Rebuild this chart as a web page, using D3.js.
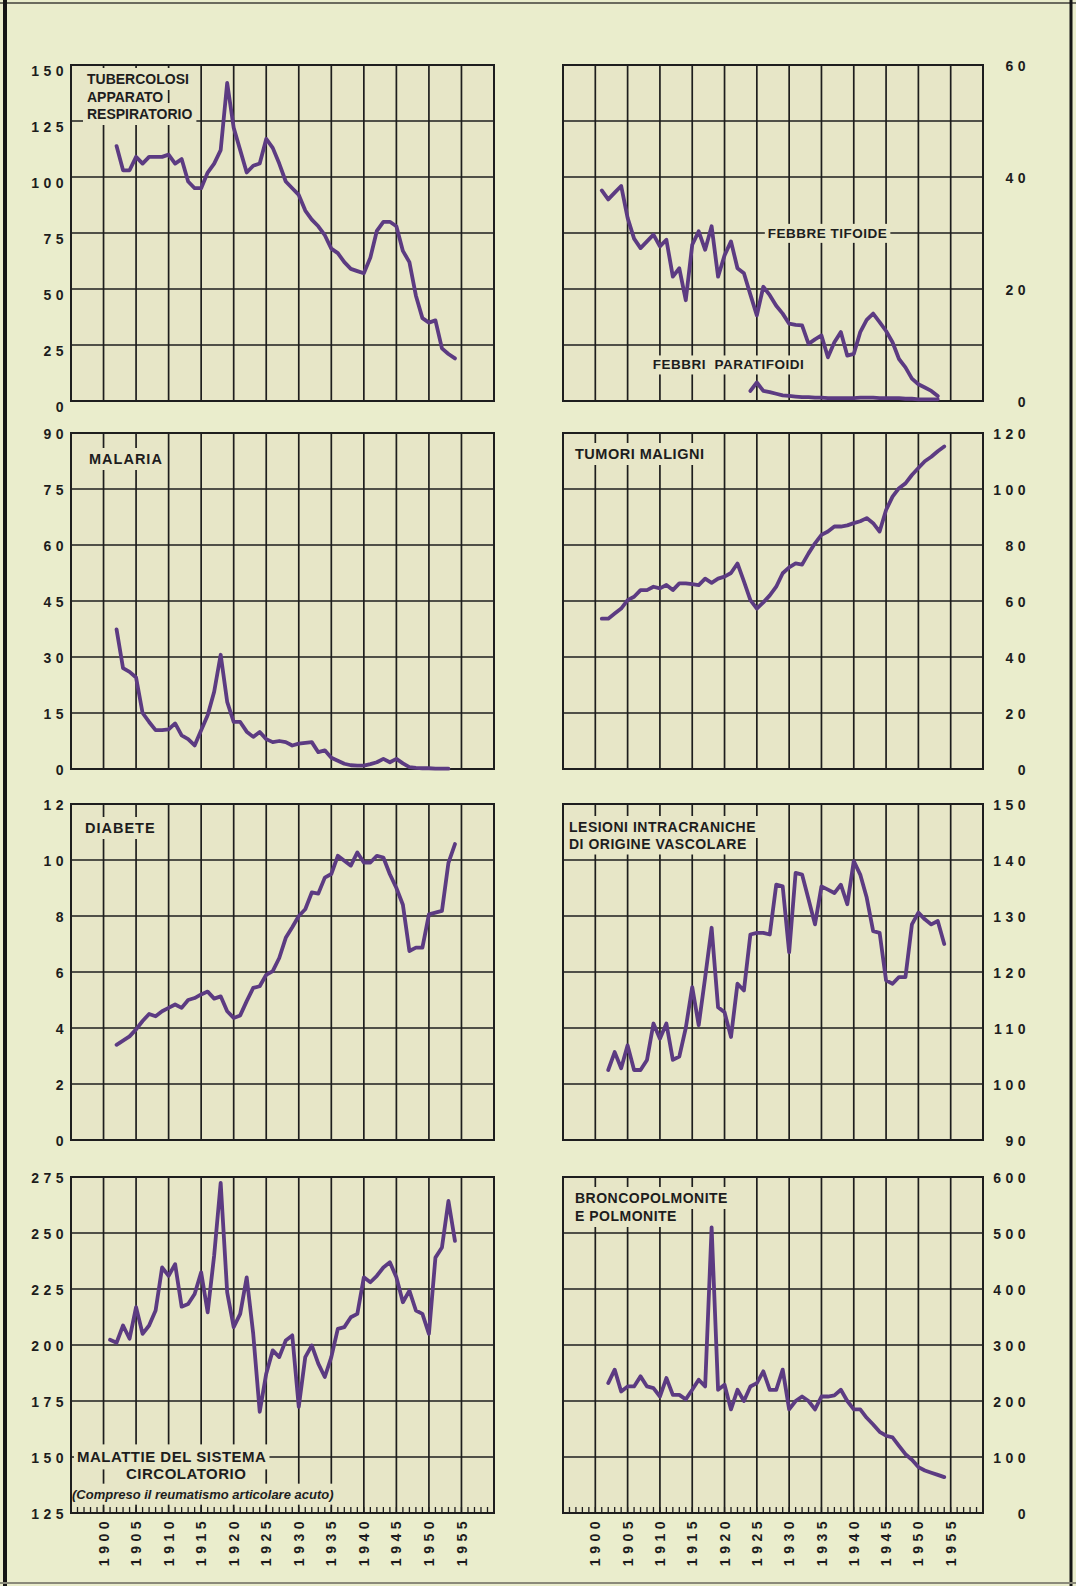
<!DOCTYPE html>
<html lang="it">
<head>
<meta charset="utf-8">
<title>Mortalità per alcune cause</title>
<script src="https://d3js.org/d3.v7.min.js"></script>
<style>
  body { margin: 0; background: #eaedcc; }
  svg text { font-family: "Liberation Sans", Arial, sans-serif; fill: #1d1d1d; }
  .ytick, .xtick { font-size: 14px; font-weight: bold; letter-spacing: 4.5px; }
  .title { font-size: 14.5px; font-weight: bold; letter-spacing: 0.5px; }
  .note { font-size: 13px; font-weight: bold; font-style: italic; }
</style>
</head>
<body>
<svg id="chart" width="1076" height="1586"></svg>
<script>

// ---- data ----
var xTicks = [1900, 1905, 1910, 1915, 1920, 1925, 1930, 1935, 1940, 1945, 1950, 1955];

var tbStart = 1902;
var tbTicks = [0, 25, 50, 75, 100, 125, 150];
var tbValues = [113.8, 103, 103, 109, 106, 109, 109, 109, 110, 106, 108, 98, 95, 95, 102, 106, 112, 142, 122, 112,
  102, 105, 106, 117, 113, 106, 98, 95, 92, 85, 81, 78, 74, 68, 66, 62, 59, 58, 57, 64,
  76, 80, 80, 78, 67, 62, 47, 37, 35, 36, 23.5, 21, 19];

var tifoideStart = 1901;
var tifoideGrid = [0, 10, 20, 30, 40, 50, 60];
var tifoideTicks = [0, 20, 40, 60];
var tifoideValues = [37.6, 36, 37.2, 38.4, 32.7, 29, 27.3, 28.5, 29.7, 27.6, 28.8, 22.2, 23.7, 18, 27.9, 30.3, 27, 31.2, 22.2, 26,
  28.5, 23.7, 22.8, 19, 15.3, 20.4, 18.9, 17, 15.6, 13.8, 13.6, 13.5, 10.2, 11, 11.7, 7.8, 10.5, 12.3, 8.1, 8.4,
  12.3, 14.5, 15.6, 14.1, 12.5, 10.5, 7.5, 6, 4, 3, 2.4, 1.8, 0.9];
var paratifoidiStart = 1924;
var paratifoidiValues = [1.8, 3.3, 1.8, 1.6, 1.3, 1.0, 0.9, 0.8, 0.7, 0.7, 0.6, 0.6, 0.5, 0.5, 0.5, 0.5, 0.5, 0.6, 0.6, 0.6,
  0.5, 0.5, 0.5, 0.5, 0.4, 0.4, 0.3, 0.3, 0.3, 0.3];

var malariaStart = 1902;
var malariaTicks = [0, 15, 30, 45, 60, 75, 90];
var malariaValues = [37.4, 27, 26, 24.5, 15, 12.6, 10.4, 10.4, 10.6, 12.2, 9, 8, 6.3, 10.4, 14.4, 20.7, 30.6, 18, 12.6, 12.6,
  10, 8.6, 9.9, 8, 7.2, 7.5, 7.2, 6.3, 6.8, 7, 7.2, 4.5, 5, 3, 2.2, 1.4, 1.0, 0.9, 0.9, 1.3,
  1.8, 2.7, 1.8, 2.7, 1.5, 0.5, 0.3, 0.2, 0.2, 0.1, 0.1, 0.1];

var tumoriStart = 1901;
var tumoriTicks = [0, 20, 40, 60, 80, 100, 120];
var tumoriValues = [53.7, 53.7, 55.5, 57.3, 60.3, 61.5, 63.9, 63.9, 65.1, 64.5, 65.7, 63.9, 66.3, 66.3, 66, 65.7, 68, 66.5, 68, 68.7,
  70, 73.4, 67, 60.3, 57.3, 59.5, 62, 65.1, 69.9, 72, 73.4, 73, 77, 80.6, 83.6, 84.8, 86.6, 86.6, 87, 87.8,
  88.5, 89.6, 87.8, 84.8, 92.5, 97.3, 100.3, 102, 105, 107.5, 109.9, 111.5, 113.5, 115.2];

var diabeteStart = 1902;
var diabeteTicks = [0, 2, 4, 6, 8, 10, 12];
var diabeteValues = [3.4, 3.55, 3.7, 3.95, 4.25, 4.5, 4.42, 4.6, 4.72, 4.84, 4.72, 5.0, 5.07, 5.2, 5.3, 5.05, 5.13, 4.6, 4.36, 4.45,
  4.96, 5.43, 5.49, 5.9, 6.03, 6.5, 7.22, 7.6, 8.0, 8.24, 8.84, 8.8, 9.37, 9.5, 10.15, 9.97, 9.8, 10.27, 9.91, 9.91,
  10.15, 10.09, 9.49, 9.0, 8.4, 6.75, 6.87, 6.87, 8.06, 8.12, 8.18, 9.9, 10.57];

var lesioniStart = 1902;
var lesioniTicks = [90, 100, 110, 120, 130, 140, 150];
var lesioniValues = [102.5, 105.7, 102.8, 106.9, 102.5, 102.5, 104.3, 110.8, 108.1, 110.8, 104.3, 104.9, 110, 117.3, 110.5, 119, 127.9, 113.7, 112.8, 108.4,
  117.9, 116.7, 126.7, 127, 127, 126.7, 135.6, 135.3, 123.5, 137.7, 137.4, 133, 128.5, 135.3, 134.7, 134.1, 135.6, 132.1, 139.8, 137.4,
  133.3, 127.3, 127, 118.5, 117.9, 119.1, 119.1, 128.5, 130.6, 129.4, 128.5, 129.1, 125];

var circStart = 1901;
var circTicks = [125, 150, 175, 200, 225, 250, 275];
var circValues = [202.3, 201, 208.7, 202.8, 216.9, 205, 208.7, 215.4, 234.6, 230.9, 236.1, 217.1, 218.3, 222.8, 232.4, 214.6, 240, 272.4, 223.5, 208,
  213.9, 230.2, 205, 170.2, 187.2, 197.6, 194.6, 202, 204.3, 172.4, 194.6, 199.8, 191.7, 185.7, 194.6, 207.2, 208, 212.4, 213.9, 230.2,
  228, 230.9, 234.6, 236.9, 230.2, 219.1, 224.3, 215.4, 213.9, 205, 239, 243.5, 264.3, 246.5];

var broncoStart = 1902;
var broncoTicks = [0, 100, 200, 300, 400, 500, 600];
var broncoValues = [232, 256, 217, 226, 226, 244, 226, 223, 208, 241, 211, 211, 203, 220, 238, 226, 510, 220, 229, 185,
  220, 200, 226, 232, 253, 220, 220, 256, 185, 200, 208, 200, 185, 208, 208, 210, 220, 200, 185, 185,
  170, 158, 145, 138, 135, 120, 105, 95, 82, 76, 72, 68, 64];

// ---- layout ----
var colX = [71, 563], plotW = [423, 420];
var rowY = [65, 433, 804, 1177], plotH = 336;
var lineColor = "#5c3b82", gridColor = "#1e1e1e";
var plotFill = "#e7e6c7";

function toPoints(start, values) {
  return values.map(function (v, i) { return { year: start + i, value: v }; });
}

var panels = [
  { col: 0, row: 0, grid: tbTicks, labels: tbTicks, series: [toPoints(tbStart, tbValues)],
    titles: [{ lines: ["TUBERCOLOSI", "APPARATO", "RESPIRATORIO"], dx: 16, dy: 19, lh: 17.5, size: 14, ls: 0 }] },
  { col: 1, row: 0, grid: tifoideGrid, labels: tifoideTicks,
    series: [toPoints(tifoideStart, tifoideValues), toPoints(paratifoidiStart, paratifoidiValues)],
    notes: [{ text: "FEBBRE TIFOIDE", year: 1926.7, value: 30 }, { text: "FEBBRI  PARATIFOIDI", year: 1908.9, value: 6.5 }] },
  { col: 0, row: 1, grid: malariaTicks, labels: malariaTicks, series: [toPoints(malariaStart, malariaValues)],
    titles: [{ lines: ["MALARIA"], dx: 18, dy: 31, lh: 17, size: 14.5, ls: 1 }] },
  { col: 1, row: 1, grid: tumoriTicks, labels: tumoriTicks, series: [toPoints(tumoriStart, tumoriValues)],
    titles: [{ lines: ["TUMORI MALIGNI"], dx: 12, dy: 26, lh: 17, size: 14.5 }] },
  { col: 0, row: 2, grid: diabeteTicks, labels: diabeteTicks, series: [toPoints(diabeteStart, diabeteValues)],
    titles: [{ lines: ["DIABETE"], dx: 14, dy: 29, lh: 17, size: 14.5, ls: 1 }] },
  { col: 1, row: 2, grid: lesioniTicks, labels: lesioniTicks, series: [toPoints(lesioniStart, lesioniValues)],
    titles: [{ lines: ["LESIONI INTRACRANICHE", "DI ORIGINE VASCOLARE"], dx: 6, dy: 28, lh: 16.5, size: 14 }] },
  { col: 0, row: 3, grid: circTicks, labels: circTicks, series: [toPoints(circStart, circValues)], bottom: true },
  { col: 1, row: 3, grid: broncoTicks, labels: broncoTicks, series: [toPoints(broncoStart, broncoValues)], bottom: true,
    titles: [{ lines: ["BRONCOPOLMONITE", "E POLMONITE"], dx: 12, dy: 26, lh: 18, size: 14 }] }
];

var svg = d3.select("#chart");

// page frame
svg.append("rect").attr("width", 1076).attr("height", 1586).attr("fill", "#eaedcc");
svg.append("line").attr("x1", 0).attr("x2", 1076).attr("y1", 3).attr("y2", 3)
  .attr("stroke", "#6b6b5e").attr("stroke-width", 2);
svg.append("line").attr("x1", 5).attr("x2", 5).attr("y1", 0).attr("y2", 1586)
  .attr("stroke", "#151515").attr("stroke-width", 4);
svg.append("line").attr("x1", 1071).attr("x2", 1071).attr("y1", 0).attr("y2", 1586)
  .attr("stroke", "#151515").attr("stroke-width", 3);
svg.append("line").attr("x1", 0).attr("x2", 1076).attr("y1", 1583).attr("y2", 1583)
  .attr("stroke", "#8a8a7a").attr("stroke-width", 2);

// put a plot-coloured box behind a text so the grid is cleared there
function clearBehind(sel, padX, padY) {
  var b = sel.node().getBBox();
  sel.each(function () {
    d3.select(this.parentNode).insert("rect", function () { return sel.node(); })
      .attr("x", b.x - padX).attr("y", b.y - padY)
      .attr("width", b.width + 2 * padX).attr("height", b.height + 2 * padY)
      .attr("fill", plotFill);
  });
}

panels.forEach(function (p) {
  var x0 = colX[p.col], w = plotW[p.col], y0 = rowY[p.row];
  var x = d3.scaleLinear().domain([1895, 1960]).range([x0, x0 + w]);
  var y = d3.scaleLinear().domain([p.grid[0], p.grid[p.grid.length - 1]]).range([y0 + plotH, y0]);
  var g = svg.append("g");

  g.append("rect").attr("x", x0).attr("y", y0).attr("width", w).attr("height", plotH).attr("fill", plotFill);

  // grid
  g.selectAll(".vg").data(xTicks).enter().append("line")
    .attr("x1", function (d) { return x(d); }).attr("x2", function (d) { return x(d); })
    .attr("y1", y0).attr("y2", y0 + plotH)
    .attr("stroke", gridColor).attr("stroke-width", 1.7);
  g.selectAll(".hg").data(p.grid).enter().append("line")
    .attr("x1", x0).attr("x2", x0 + w)
    .attr("y1", function (d) { return y(d); }).attr("y2", function (d) { return y(d); })
    .attr("stroke", gridColor).attr("stroke-width", 1.7);

  // y labels
  var labX = p.col === 0 ? x0 - 3 : x0 + w + 47;
  g.selectAll(".yl").data(p.labels).enter().append("text")
    .attr("class", "ytick")
    .attr("x", labX).attr("y", function (d) { return y(d); })
    .attr("dy", p.row === 0 && p.col === 0 ? "0.8em" : "0.4em").attr("text-anchor", "end")
    .text(function (d) { return d; });

  // year ticks and labels on the bottom row
  if (p.bottom) {
    g.selectAll(".mt").data(d3.range(1896, 1960)).enter().append("line")
      .attr("x1", function (d) { return x(d); }).attr("x2", function (d) { return x(d); })
      .attr("y1", y0 + plotH).attr("y2", y0 + plotH - 6)
      .attr("stroke", gridColor).attr("stroke-width", 1.3);
    g.selectAll(".xl").data(xTicks).enter().append("text")
      .attr("class", "xtick")
      .attr("transform", function (d) { return "translate(" + x(d) + "," + (y0 + plotH + 4) + ") rotate(-90)"; })
      .attr("dy", "0.36em").attr("text-anchor", "end")
      .text(function (d) { return d; });
  }

  // titles, each line on its own cleared patch
  (p.titles || []).forEach(function (t) {
    t.lines.forEach(function (line, i) {
      var tx = g.append("text").attr("class", "title")
        .attr("x", x0 + t.dx).attr("y", y0 + t.dy + i * t.lh)
        .style("font-size", t.size + "px")
        .style("letter-spacing", (t.ls === undefined ? 0.5 : t.ls) + "px")
        .text(line);
      clearBehind(tx, 4, 3);
    });
  });

  (p.notes || []).forEach(function (n) {
    var tx = g.append("text").attr("class", "title")
      .attr("x", x(n.year)).attr("y", y(n.value)).attr("dy", "0.36em")
      .style("font-size", "13.5px").style("white-space", "pre")
      .text(n.text);
    clearBehind(tx, 3, 2);
  });

  if (p.row === 3 && p.col === 0) {
    var c1 = g.append("text").attr("class", "title").attr("x", x0 + 6).attr("y", y(150)).attr("dy", "0.36em")
      .style("font-size", "15px").text("MALATTIE DEL SISTEMA");
    clearBehind(c1, 3, 4);
    var c2 = g.append("text").attr("class", "title").attr("x", x0 + 55).attr("y", y(150) + 17).attr("dy", "0.36em")
      .style("font-size", "15px").text("CIRCOLATORIO");
    clearBehind(c2, 4, 3);
    var c3 = g.append("text").attr("class", "note").attr("x", x0 + 1).attr("y", y(150) + 37).attr("dy", "0.36em")
      .text("(Compreso il reumatismo articolare acuto)");
    clearBehind(c3, 1, 3);
  }

  // frame
  g.append("rect").attr("x", x0).attr("y", y0).attr("width", w).attr("height", plotH)
    .attr("fill", "none").attr("stroke", gridColor).attr("stroke-width", 2);

  // series
  var line = d3.line().x(function (d) { return x(d.year); }).y(function (d) { return y(d.value); });
  p.series.forEach(function (s) {
    g.append("path").datum(s).attr("d", line)
      .attr("fill", "none").attr("stroke", lineColor).attr("stroke-width", 3.8)
      .attr("stroke-linejoin", "round").attr("stroke-linecap", "round");
  });
});

</script>
</body>
</html>
